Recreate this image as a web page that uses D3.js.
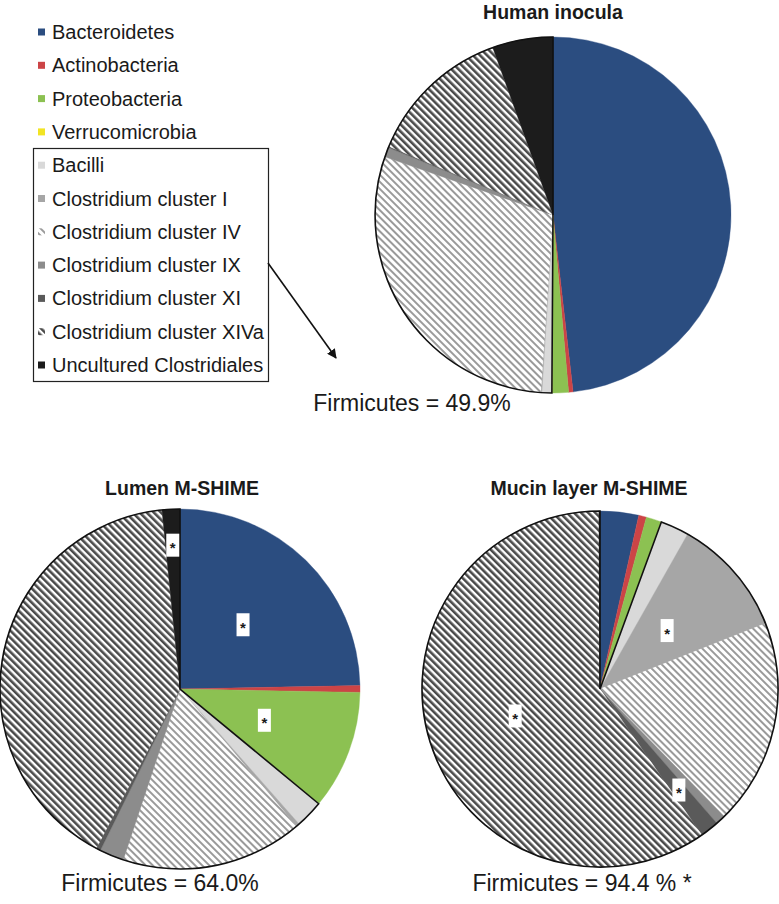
<!DOCTYPE html>
<html>
<head>
<meta charset="utf-8">
<script src="https://cdn.jsdelivr.net/npm/d3@7"></script>
<style>
  body { margin: 0; background: #fff; }
  text { font-family: "Liberation Sans", Arial, sans-serif; fill: #1a1a1a; }
</style>
</head>
<body>
<div id="chart"></div>
<script>
// phyla / Firmicutes groups, clockwise from 12 o'clock
var categories = ["Bacteroidetes", "Actinobacteria", "Proteobacteria", "Verrucomicrobia",
  "Bacilli", "Clostridium cluster I", "Clostridium cluster IV", "Clostridium cluster IX",
  "Clostridium cluster XI", "Clostridium cluster XIVa", "Uncultured Clostridiales"];

// relative abundance (%)
var humanInocula = [48.2, 0.4, 1.5, 0, 0.9, 0.1, 29.2, 0.9, 0.1, 13.2, 5.5];
var lumenShime = [24.7, 0.6, 10.7, 0, 2.5, 0.3, 16.3, 2.2, 0.4, 40.7, 1.6];
var mucinShime = [3.5, 0.7, 1.4, 0, 2.6, 10.8, 18.7, 0.9, 1.7, 59.6, 0.1];

var chartTitles = ["Human inocula", "Lumen M-SHIME", "Mucin layer M-SHIME"];
var firmicutesLabels = ["Firmicutes = 49.9%", "Firmicutes = 64.0%", "Firmicutes = 94.4 % *"];

// groups marked as significantly different (*)
var lumenStars = ["Bacteroidetes", "Proteobacteria", "Uncultured Clostridiales"];
var mucinStars = ["Clostridium cluster I", "Clostridium cluster XI", "Clostridium cluster XIVa"];

var firstFirmicutes = 4;

var width = 779, height = 904;

var svg = d3.select("#chart").append("svg")
  .attr("width", width)
  .attr("height", height);

// hatch patterns
var defs = svg.append("defs");
function makeHatch(id, color, lineW) {
  var p = defs.append("pattern")
    .attr("id", id)
    .attr("patternUnits", "userSpaceOnUse")
    .attr("width", 5)
    .attr("height", 5)
    .attr("patternTransform", "rotate(-45)");
  p.append("rect").attr("width", 5).attr("height", 5).attr("fill", "#fff");
  p.append("rect").attr("width", lineW).attr("height", 5).attr("fill", color);
}
makeHatch("hatchIV", "#9a9a9a", 2);
makeHatch("hatchXIVa", "#4a4a4a", 2.6);

var color = d3.scaleOrdinal()
  .domain(categories)
  .range(["#2b4d80", "#cc4446", "#8cc152", "#f2e424", "#d9d9d9", "#a6a6a6",
    "url(#hatchIV)", "#8c8c8c", "#5a5a5a", "url(#hatchXIVa)", "#1c1c1c"]);

var pie = d3.pie().sort(null).value(function(d) { return d.value; });

function drawPie(values, cx, cy, r, stars, starRadius) {
  var data = values.map(function(v, i) { return {name: categories[i], value: v}; });
  var arcs = pie(data);
  var arc = d3.arc().innerRadius(0).outerRadius(r);

  var g = svg.append("g").attr("transform", "translate(" + cx + "," + cy + ")");

  g.selectAll("path.slice")
    .data(arcs)
    .enter().append("path")
    .attr("class", "slice")
    .attr("d", arc)
    .attr("fill", function(d) { return color(d.data.name); })
    .attr("stroke", function(d) { return color(d.data.name); })
    .attr("stroke-width", 0.4);

  // outline around the Firmicutes groups
  var firmStart = arcs[firstFirmicutes].startAngle;
  g.append("path")
    .attr("d", arc({startAngle: firmStart, endAngle: 2 * Math.PI}))
    .attr("fill", "none")
    .attr("stroke", "#111")
    .attr("stroke-width", 1.6)
    .attr("stroke-linejoin", "miter");

  // significance markers
  var starArcs = arcs.filter(function(d) { return stars.indexOf(d.data.name) >= 0; });
  var mk = g.selectAll("g.star")
    .data(starArcs)
    .enter().append("g")
    .attr("class", "star")
    .attr("transform", function(d) {
      var rr = (starRadius[d.data.name] || 0.5) * r;
      var c = d3.arc().innerRadius(rr).outerRadius(rr).centroid(d);
      return "translate(" + c[0] + "," + c[1] + ")";
    });
  mk.append("rect")
    .attr("x", -6.5).attr("y", -11.5)
    .attr("width", 13).attr("height", 23)
    .attr("fill", "#fff");
  mk.append("text")
    .attr("text-anchor", "middle")
    .attr("y", 8)
    .style("font-size", "15px")
    .style("font-weight", "bold")
    .text("*");
}

drawPie(humanInocula, 553, 215, 178, [], {});
drawPie(lumenShime, 180, 689, 180, lumenStars, {"Uncultured Clostridiales": 0.8});
drawPie(mucinShime, 600, 689, 178, mucinStars, {"Clostridium cluster XI": 0.72});

// titles
var titlePos = [[553, 19], [182, 495], [589, 495]];
svg.selectAll("text.title")
  .data(chartTitles)
  .enter().append("text")
  .attr("class", "title")
  .attr("x", function(d, i) { return titlePos[i][0]; })
  .attr("y", function(d, i) { return titlePos[i][1]; })
  .attr("text-anchor", "middle")
  .style("font-size", "19.5px")
  .style("font-weight", "bold")
  .text(function(d) { return d; });

// Firmicutes totals
var firmPos = [[412, 411], [160, 891], [582, 891]];
svg.selectAll("text.firm")
  .data(firmicutesLabels)
  .enter().append("text")
  .attr("class", "firm")
  .attr("x", function(d, i) { return firmPos[i][0]; })
  .attr("y", function(d, i) { return firmPos[i][1]; })
  .attr("text-anchor", "middle")
  .style("font-size", "23px")
  .text(function(d) { return d; });

// legend
var legendY = d3.scalePoint().domain(categories).range([32, 365]);
var legend = svg.append("g");
legend.append("rect")
  .attr("x", 33.5).attr("y", 148.5)
  .attr("width", 235).attr("height", 233)
  .attr("fill", "none")
  .attr("stroke", "#222")
  .attr("stroke-width", 1.2);
var li = legend.selectAll("g.item")
  .data(categories)
  .enter().append("g")
  .attr("class", "item")
  .attr("transform", function(d) { return "translate(0," + legendY(d) + ")"; });
li.append("rect")
  .attr("x", 38).attr("y", -3.5)
  .attr("width", 7).attr("height", 7)
  .attr("fill", function(d) { return color(d); });
li.append("text")
  .attr("x", 52).attr("y", 7)
  .style("font-size", "20px")
  .text(function(d) { return d; });

// arrow from the Firmicutes legend box to the total
defs.append("marker")
  .attr("id", "arrowHead")
  .attr("viewBox", "0 0 10 10")
  .attr("refX", 9).attr("refY", 5)
  .attr("markerWidth", 6).attr("markerHeight", 6)
  .attr("orient", "auto")
  .append("path")
  .attr("d", "M0,0 L10,5 L0,10 Z")
  .attr("fill", "#111");
svg.append("line")
  .attr("x1", 268).attr("y1", 263)
  .attr("x2", 336).attr("y2", 358)
  .attr("stroke", "#111")
  .attr("stroke-width", 1.6)
  .attr("marker-end", "url(#arrowHead)");
</script>
</body>
</html>
